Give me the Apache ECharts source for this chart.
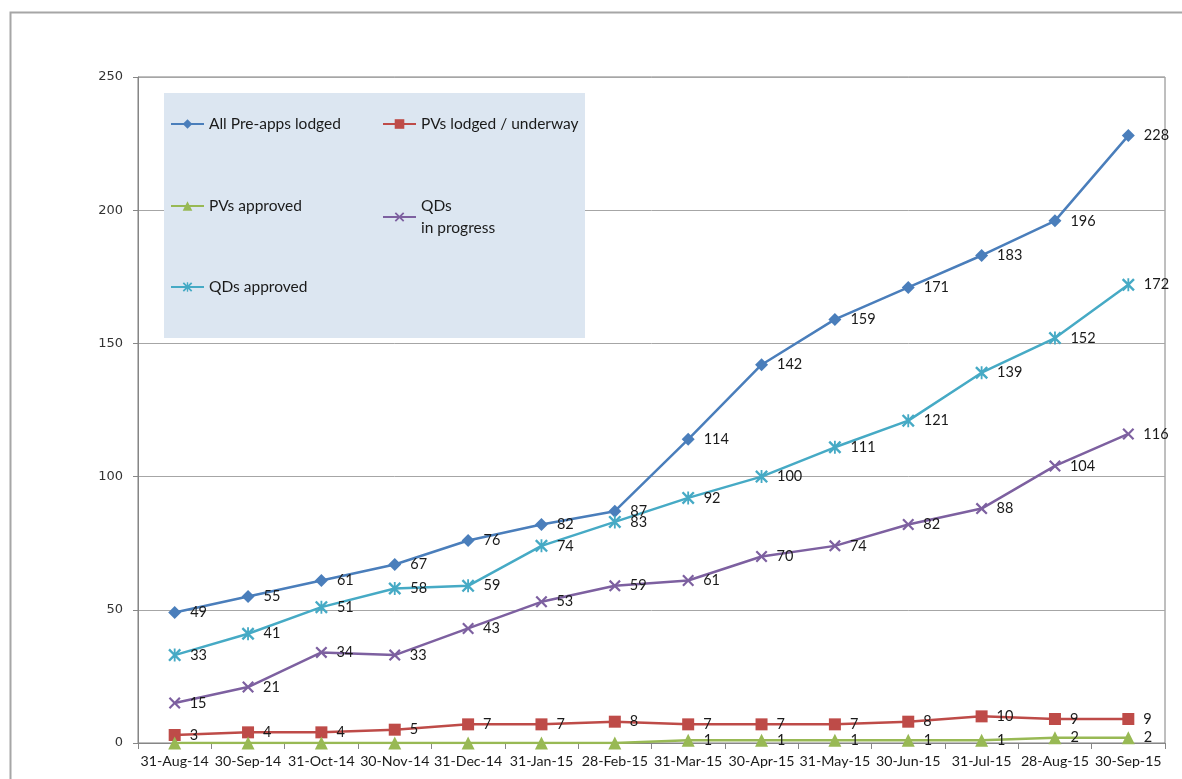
<!DOCTYPE html>
<html>
<head>
<meta charset="utf-8">
<script src="https://cdn.jsdelivr.net/npm/echarts@6/dist/echarts.min.js"></script>
<style>
html,body{margin:0;padding:0;background:#fff;}
#chart{width:1182px;height:779px;}
</style>
</head>
<body>
<div id="chart"></div>
<script>
// ---- data ----
const categories = ['31-Aug-14','30-Sep-14','31-Oct-14','30-Nov-14','31-Dec-14','31-Jan-15','28-Feb-15','31-Mar-15','30-Apr-15','31-May-15','30-Jun-15','31-Jul-15','28-Aug-15','30-Sep-15'];
const allPreApps   = [49,55,61,67,76,82,87,114,142,159,171,183,196,228];
const pvsLodged    = [3,4,4,5,7,7,8,7,7,7,8,10,9,9];
const pvsApproved  = [0,0,0,0,0,0,0,1,1,1,1,1,2,2];
const qdsInProgress= [15,21,34,33,43,53,59,61,70,74,82,88,104,116];
const qdsApproved  = [33,41,51,58,59,74,83,92,100,111,121,139,152,172];
const yTicks = [0,50,100,150,200,250];

const names = ['All Pre-apps lodged','PVs lodged / underway','PVs approved','QDs in progress','QDs approved'];
const colors = ['#4a7ebb','#be4b48','#98b954','#7d60a0','#46aac5'];

const xPath = 'path://M0,1.3L1.3,0L5,3.7L8.7,0L10,1.3L6.3,5L10,8.7L8.7,10L5,6.3L1.3,10L0,8.7L3.7,5Z';
const starPath = 'path://M0,1.3L1.3,0L5,3.7L8.7,0L10,1.3L6.3,5L10,8.7L8.7,10L5,6.3L1.3,10L0,8.7L3.7,5Z M4.3,0L5.7,0L5.7,10L4.3,10Z';

const FONT = 'Lato';

function mkSeries(name, data, color, symbol, size){
  return {
    name: name, type: 'line', data: data,
    symbol: symbol, symbolSize: size,
    lineStyle: {color: color, width: 2.5},
    itemStyle: {color: color},
    label: {
      show: true, position: 'right', distance: 9,
      fontFamily: FONT, fontSize: 14.5, color: '#1a1a1a',
      formatter: p => (p.value === 0 ? '' : String(p.value))
    },
    emphasis: {disabled: true},
    animation: false
  };
}

const legendPos = [
  {name: names[0], left: 170, cy: 124},
  {name: names[1], left: 382, cy: 124},
  {name: names[2], left: 170, cy: 206},
  {name: names[3], left: 382, cy: 206, multi: true},
  {name: names[4], left: 170, cy: 287}
];

const legends = legendPos.map(l => {
  const o = {
    data: [l.name], left: l.left, padding: 0,
    itemWidth: 33, itemHeight: 12, itemGap: 0,
    selectedMode: false,
    textStyle: {fontFamily: FONT, fontSize: 15.5, color: '#1a1a1a', lineHeight: 16},
    z: 10
  };
  if (l.multi) {
    o.formatter = () => 'QDs\nin progress';
    o.textStyle = {fontFamily: FONT, fontSize: 15.5, color: '#1a1a1a', lineHeight: 22, padding: [22,0,0,0]};
    o.top = l.cy - 22;
  } else {
    o.top = l.cy - 8;
  }
  return o;
});

const chart = echarts.init(document.getElementById('chart'), null, {renderer: 'canvas'});
chart.setOption({
  backgroundColor: '#fff',
  animation: false,
  graphic: [
    {type: 'rect', left: 8, top: 10, shape: {width: 1300, height: 900}, style: {fill: 'none', stroke: '#a6a6a6', lineWidth: 2}, z: 0, silent: true},
    {type: 'rect', left: 164, top: 93, shape: {width: 421, height: 245}, style: {fill: '#dce6f1'}, z: 5, silent: true}
  ],
  legend: legends,
  grid: {left: 138, right: 17, top: 77, bottom: 36, show: true, borderColor: '#7f7f7f', borderWidth: 1, backgroundColor: 'transparent'},
  xAxis: {
    type: 'category', data: categories, boundaryGap: true,
    axisLine: {lineStyle: {color: '#868686', width: 1}},
    axisTick: {show: true, length: 6, lineStyle: {color: '#868686'}},
    axisLabel: {fontFamily: FONT, fontSize: 14.2, color: '#1a1a1a', margin: 11, interval: 0},
    splitLine: {show: false}
  },
  yAxis: {
    type: 'value', min: yTicks[0], max: yTicks[yTicks.length-1], interval: 50,
    axisLine: {show: true, lineStyle: {color: '#868686', width: 1}},
    axisTick: {show: true, length: 5, lineStyle: {color: '#868686'}},
    axisLabel: {fontFamily: 'DejaVu Sans', fontSize: 13, color: '#333', margin: 15},
    splitLine: {show: true, lineStyle: {color: '#a6a6a6', width: 1}}
  },
  series: [
    mkSeries(names[0], allPreApps, colors[0], 'diamond', 13),
    mkSeries(names[1], pvsLodged, colors[1], 'rect', 12),
    mkSeries(names[2], pvsApproved, colors[2], 'triangle', 13),
    mkSeries(names[3], qdsInProgress, colors[3], xPath, 12),
    mkSeries(names[4], qdsApproved, colors[4], starPath, 13)
  ]
});
</script>
</body>
</html>
